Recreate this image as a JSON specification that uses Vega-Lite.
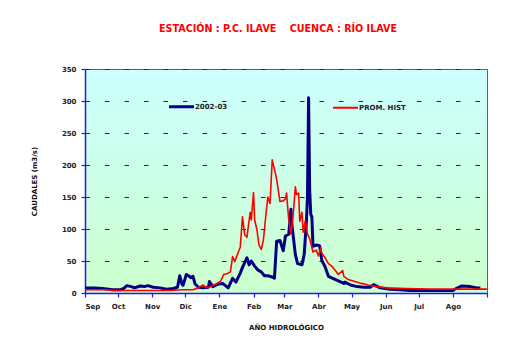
{
  "$schema": "https://vega.github.io/schema/vega-lite/v6.json",
  "width": 402,
  "height": 224,
  "autosize": {"type": "none"},
  "padding": {"left": 85, "top": 69, "right": 33, "bottom": 62},
  "background": "white",
  "title": {
    "text": "ESTACIÓN : P.C. ILAVE\u00a0\u00a0\u00a0\u00a0CUENCA : RÍO ILAVE",
    "color": "#ff0000",
    "font": "DejaVu Sans",
    "fontSize": 9.6,
    "fontWeight": "bold",
    "anchor": "middle",
    "dx": -8,
    "offset": 31
  },
  "datasets": {
    "flows": [
      {"series": "2002-03", "day": 0, "q": 8},
      {"series": "2002-03", "day": 9, "q": 8},
      {"series": "2002-03", "day": 16, "q": 7},
      {"series": "2002-03", "day": 25, "q": 5},
      {"series": "2002-03", "day": 32, "q": 5},
      {"series": "2002-03", "day": 35, "q": 7},
      {"series": "2002-03", "day": 38, "q": 11.5},
      {"series": "2002-03", "day": 42, "q": 10},
      {"series": "2002-03", "day": 45, "q": 8},
      {"series": "2002-03", "day": 50, "q": 11},
      {"series": "2002-03", "day": 54, "q": 10},
      {"series": "2002-03", "day": 57, "q": 11.5},
      {"series": "2002-03", "day": 62, "q": 9},
      {"series": "2002-03", "day": 68, "q": 8},
      {"series": "2002-03", "day": 74, "q": 6},
      {"series": "2002-03", "day": 80, "q": 7},
      {"series": "2002-03", "day": 84, "q": 9},
      {"series": "2002-03", "day": 86, "q": 27},
      {"series": "2002-03", "day": 88, "q": 14},
      {"series": "2002-03", "day": 89, "q": 12},
      {"series": "2002-03", "day": 92, "q": 29},
      {"series": "2002-03", "day": 94, "q": 27},
      {"series": "2002-03", "day": 96, "q": 24},
      {"series": "2002-03", "day": 98, "q": 26},
      {"series": "2002-03", "day": 100, "q": 14},
      {"series": "2002-03", "day": 103, "q": 9},
      {"series": "2002-03", "day": 107, "q": 8},
      {"series": "2002-03", "day": 112, "q": 9},
      {"series": "2002-03", "day": 113, "q": 18},
      {"series": "2002-03", "day": 116, "q": 10},
      {"series": "2002-03", "day": 121, "q": 14},
      {"series": "2002-03", "day": 125, "q": 15},
      {"series": "2002-03", "day": 130, "q": 8},
      {"series": "2002-03", "day": 134, "q": 23},
      {"series": "2002-03", "day": 137, "q": 17},
      {"series": "2002-03", "day": 141, "q": 31},
      {"series": "2002-03", "day": 143, "q": 40},
      {"series": "2002-03", "day": 147, "q": 55},
      {"series": "2002-03", "day": 149, "q": 44},
      {"series": "2002-03", "day": 151, "q": 50},
      {"series": "2002-03", "day": 154, "q": 42},
      {"series": "2002-03", "day": 157, "q": 36},
      {"series": "2002-03", "day": 160, "q": 33},
      {"series": "2002-03", "day": 163, "q": 27},
      {"series": "2002-03", "day": 166, "q": 27},
      {"series": "2002-03", "day": 170, "q": 25},
      {"series": "2002-03", "day": 172, "q": 23},
      {"series": "2002-03", "day": 174, "q": 81},
      {"series": "2002-03", "day": 177, "q": 82},
      {"series": "2002-03", "day": 180, "q": 66},
      {"series": "2002-03", "day": 182, "q": 89},
      {"series": "2002-03", "day": 185, "q": 92},
      {"series": "2002-03", "day": 187, "q": 131},
      {"series": "2002-03", "day": 188, "q": 105},
      {"series": "2002-03", "day": 191, "q": 60},
      {"series": "2002-03", "day": 193, "q": 46},
      {"series": "2002-03", "day": 197, "q": 44},
      {"series": "2002-03", "day": 199, "q": 60},
      {"series": "2002-03", "day": 201, "q": 110},
      {"series": "2002-03", "day": 202, "q": 150},
      {"series": "2002-03", "day": 203, "q": 305},
      {"series": "2002-03", "day": 204, "q": 160},
      {"series": "2002-03", "day": 205, "q": 123},
      {"series": "2002-03", "day": 206, "q": 119},
      {"series": "2002-03", "day": 207, "q": 73},
      {"series": "2002-03", "day": 210, "q": 75},
      {"series": "2002-03", "day": 213, "q": 74},
      {"series": "2002-03", "day": 215, "q": 51},
      {"series": "2002-03", "day": 218, "q": 41},
      {"series": "2002-03", "day": 221, "q": 26},
      {"series": "2002-03", "day": 225, "q": 23},
      {"series": "2002-03", "day": 230, "q": 19},
      {"series": "2002-03", "day": 235, "q": 15},
      {"series": "2002-03", "day": 236, "q": 17},
      {"series": "2002-03", "day": 241, "q": 12.5},
      {"series": "2002-03", "day": 247, "q": 10},
      {"series": "2002-03", "day": 253, "q": 9},
      {"series": "2002-03", "day": 259, "q": 9},
      {"series": "2002-03", "day": 262, "q": 13},
      {"series": "2002-03", "day": 268, "q": 8},
      {"series": "2002-03", "day": 277, "q": 6},
      {"series": "2002-03", "day": 286, "q": 5},
      {"series": "2002-03", "day": 295, "q": 4},
      {"series": "2002-03", "day": 313, "q": 4},
      {"series": "2002-03", "day": 334, "q": 4},
      {"series": "2002-03", "day": 337, "q": 7},
      {"series": "2002-03", "day": 342, "q": 11},
      {"series": "2002-03", "day": 350, "q": 10},
      {"series": "2002-03", "day": 356, "q": 8},
      {"series": "2002-03", "day": 359, "q": 8},
      {"series": "PROM. HIST", "day": 0, "q": 5},
      {"series": "PROM. HIST", "day": 14, "q": 5},
      {"series": "PROM. HIST", "day": 20, "q": 5},
      {"series": "PROM. HIST", "day": 25, "q": 4},
      {"series": "PROM. HIST", "day": 41, "q": 4},
      {"series": "PROM. HIST", "day": 59, "q": 4},
      {"series": "PROM. HIST", "day": 77, "q": 4},
      {"series": "PROM. HIST", "day": 89, "q": 5},
      {"series": "PROM. HIST", "day": 98, "q": 5},
      {"series": "PROM. HIST", "day": 103, "q": 8},
      {"series": "PROM. HIST", "day": 107, "q": 12.5},
      {"series": "PROM. HIST", "day": 110, "q": 9},
      {"series": "PROM. HIST", "day": 113, "q": 9},
      {"series": "PROM. HIST", "day": 116, "q": 12},
      {"series": "PROM. HIST", "day": 119, "q": 14},
      {"series": "PROM. HIST", "day": 123, "q": 18},
      {"series": "PROM. HIST", "day": 126, "q": 29},
      {"series": "PROM. HIST", "day": 129, "q": 30},
      {"series": "PROM. HIST", "day": 132, "q": 33},
      {"series": "PROM. HIST", "day": 134, "q": 57},
      {"series": "PROM. HIST", "day": 136, "q": 49},
      {"series": "PROM. HIST", "day": 139, "q": 63},
      {"series": "PROM. HIST", "day": 141, "q": 72},
      {"series": "PROM. HIST", "day": 143, "q": 119},
      {"series": "PROM. HIST", "day": 145, "q": 91},
      {"series": "PROM. HIST", "day": 147, "q": 87},
      {"series": "PROM. HIST", "day": 150, "q": 126},
      {"series": "PROM. HIST", "day": 151, "q": 114},
      {"series": "PROM. HIST", "day": 153, "q": 157},
      {"series": "PROM. HIST", "day": 154, "q": 114},
      {"series": "PROM. HIST", "day": 156, "q": 100},
      {"series": "PROM. HIST", "day": 158, "q": 75},
      {"series": "PROM. HIST", "day": 160, "q": 68},
      {"series": "PROM. HIST", "day": 162, "q": 83},
      {"series": "PROM. HIST", "day": 164, "q": 118},
      {"series": "PROM. HIST", "day": 166, "q": 150},
      {"series": "PROM. HIST", "day": 168, "q": 140},
      {"series": "PROM. HIST", "day": 170, "q": 208},
      {"series": "PROM. HIST", "day": 173, "q": 186},
      {"series": "PROM. HIST", "day": 174, "q": 178},
      {"series": "PROM. HIST", "day": 177, "q": 143},
      {"series": "PROM. HIST", "day": 180, "q": 144},
      {"series": "PROM. HIST", "day": 182, "q": 147},
      {"series": "PROM. HIST", "day": 183, "q": 156},
      {"series": "PROM. HIST", "day": 185, "q": 114},
      {"series": "PROM. HIST", "day": 187, "q": 92},
      {"series": "PROM. HIST", "day": 189, "q": 122},
      {"series": "PROM. HIST", "day": 191, "q": 166},
      {"series": "PROM. HIST", "day": 192, "q": 154},
      {"series": "PROM. HIST", "day": 194, "q": 156},
      {"series": "PROM. HIST", "day": 195, "q": 112},
      {"series": "PROM. HIST", "day": 197, "q": 126},
      {"series": "PROM. HIST", "day": 198, "q": 95},
      {"series": "PROM. HIST", "day": 200, "q": 113},
      {"series": "PROM. HIST", "day": 202, "q": 92},
      {"series": "PROM. HIST", "day": 204, "q": 85},
      {"series": "PROM. HIST", "day": 207, "q": 64},
      {"series": "PROM. HIST", "day": 210, "q": 67},
      {"series": "PROM. HIST", "day": 212, "q": 58},
      {"series": "PROM. HIST", "day": 214, "q": 71},
      {"series": "PROM. HIST", "day": 215, "q": 62},
      {"series": "PROM. HIST", "day": 218, "q": 55},
      {"series": "PROM. HIST", "day": 221, "q": 46},
      {"series": "PROM. HIST", "day": 224, "q": 42},
      {"series": "PROM. HIST", "day": 227, "q": 36},
      {"series": "PROM. HIST", "day": 230, "q": 29},
      {"series": "PROM. HIST", "day": 234, "q": 35},
      {"series": "PROM. HIST", "day": 235, "q": 26},
      {"series": "PROM. HIST", "day": 239, "q": 21},
      {"series": "PROM. HIST", "day": 245, "q": 18},
      {"series": "PROM. HIST", "day": 251, "q": 15},
      {"series": "PROM. HIST", "day": 257, "q": 12.5},
      {"series": "PROM. HIST", "day": 265, "q": 10},
      {"series": "PROM. HIST", "day": 274, "q": 8},
      {"series": "PROM. HIST", "day": 292, "q": 7},
      {"series": "PROM. HIST", "day": 313, "q": 6},
      {"series": "PROM. HIST", "day": 337, "q": 6},
      {"series": "PROM. HIST", "day": 350, "q": 6},
      {"series": "PROM. HIST", "day": 365, "q": 6}
    ]
  },
  "data": {"name": "flows"},
  "encoding": {
    "x": {
      "field": "day",
      "type": "quantitative",
      "scale": {"domain": [0, 365], "nice": false, "zero": false},
      "axis": {
        "title": "AÑO HIDROLÓGICO",
        "values": [0, 30, 61, 91, 122, 153, 181, 212, 242, 273, 303, 334, 365],
        "labelExpr": "datum.value >= 365 ? '' : ['Sep','Oct','Nov','Dic','Ene','Feb','Mar','Abr','May','Jun','Jul','Ago'][indexof([0,30,61,91,122,153,181,212,242,273,303,334], datum.value)]",
        "grid": false,
        "labelPadding": 5,
        "titlePadding": 14
      }
    },
    "y": {
      "field": "q",
      "type": "quantitative",
      "scale": {"domain": [0, 350], "nice": false},
      "axis": {
        "title": "CAUDALES (m3/s)",
        "values": [0, 50, 100, 150, 200, 250, 300, 350],
        "grid": true,
        "gridDash": [4.5, 15],
        "gridColor": "#1a1aa0",
        "gridWidth": 1,
        "labelPadding": 5,
        "titlePadding": 24
      }
    },
    "color": {
      "field": "series",
      "type": "nominal",
      "scale": {"domain": ["2002-03", "PROM. HIST"], "range": ["#000080", "#ff0000"]},
      "legend": {
        "title": null,
        "orient": "none",
        "legendX": 93,
        "legendY": 34,
        "direction": "horizontal",
        "symbolType": "stroke",
        "symbolSize": 625,
        "symbolStrokeWidth": 2.5,
        "labelFont": "DejaVu Sans",
        "labelFontWeight": "bold",
        "labelFontSize": 7,
        "labelColor": "#222222",
        "labelOffset": 10,
        "columnPadding": 101,
        "padding": 0,
        "encode": {
          "symbols": {"update": {"strokeWidth": {"signal": "datum.value === '2002-03' ? 3 : 2"}}}
        }
      }
    }
  },
  "layer": [
    {
      "transform": [{"filter": "datum.series === '2002-03'"}],
      "mark": {"type": "line", "strokeWidth": 3, "strokeJoin": "round"}
    },
    {
      "transform": [{"filter": "datum.series === 'PROM. HIST'"}],
      "mark": {"type": "line", "strokeWidth": 1.6, "strokeJoin": "round"}
    }
  ],
  "config": {
    "font": "DejaVu Sans",
    "view": {
      "stroke": "#4d4dff",
      "strokeWidth": 1,
      "fill": {
        "gradient": "linear",
        "x1": 0, "y1": 0, "x2": 0, "y2": 1,
        "stops": [
          {"offset": 0, "color": "#ccffff"},
          {"offset": 1, "color": "#ccffcc"}
        ]
      }
    },
    "axis": {
      "domainColor": "#1a1aff",
      "domainWidth": 1.5,
      "tickColor": "#1a1aff",
      "tickWidth": 1.2,
      "tickSize": 4,
      "labelFont": "DejaVu Sans",
      "labelFontWeight": "bold",
      "labelFontSize": 7,
      "labelColor": "#222222",
      "titleFont": "DejaVu Sans",
      "titleFontWeight": "bold",
      "titleFontSize": 7,
      "titleColor": "#111111"
    }
  }
}
